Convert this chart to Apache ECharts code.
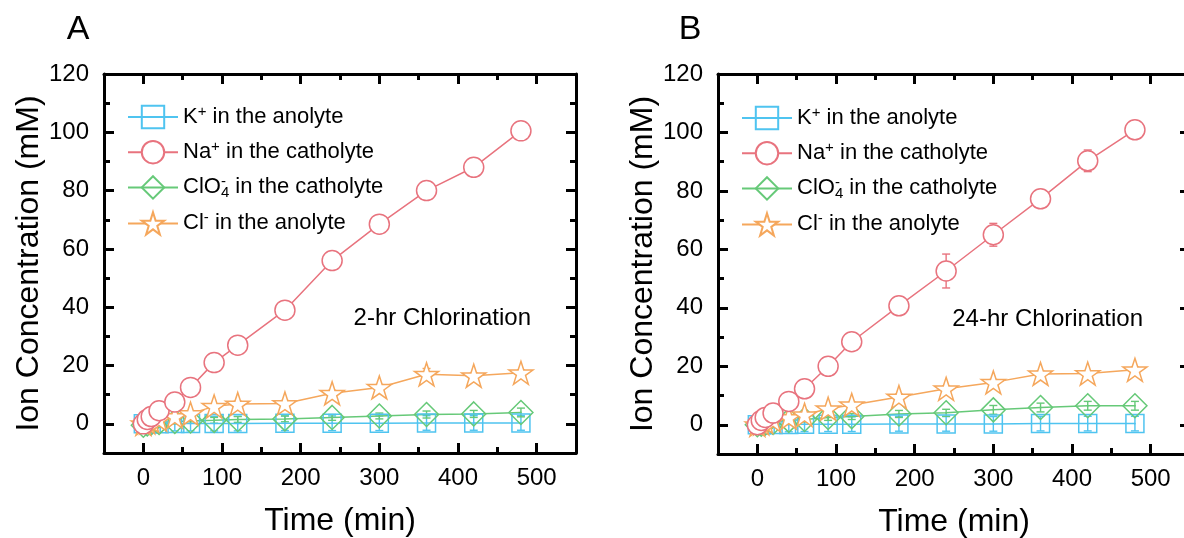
<!DOCTYPE html>
<html>
<head>
<meta charset="utf-8">
<script src="https://cdn.jsdelivr.net/npm/echarts@6/dist/echarts.min.js"></script>
<style>
  html, body { margin: 0; padding: 0; background: #fff; }
  #chart { width: 1184px; height: 538px; }
</style>
</head>
<body>
<div id="chart"></div>
<script>
// sampling times (min), shared by both panels
const times = [0, 5, 10, 20, 40, 60, 90, 120, 180, 240, 300, 360, 420, 480];

// panel A: 2-hr chlorination (mM)
const kA    = [0, 0, 0, 0, 0.1, 0.1, 0.1, 0.1, 0.2, 0.2, 0.2, 0.3, 0.3, 0.3];
const naA   = [0, 1.5, 2.5, 4.5, 7.5, 12.5, 21, 27, 39, 56, 68.5, 80, 88, 100.5];
const clo4A = [-0.5, 0, 0.3, 0.5, 0.8, 1, 1.2, 1.5, 1.7, 2.2, 2.7, 3.2, 3.4, 3.9];
const clA   = [0, 0.5, 1, 1.5, 2.5, 3.5, 6, 6.8, 7, 10.5, 12.5, 17, 16.5, 17.5];
const errKA    = [0.5, 0.5, 1, 1, 2.5, 2.5, 2.5, 2.5, 2.5, 2.5, 2.5, 2.5, 2.5, 2.5];
const errNaA   = [0.3, 0.5, 0.5, 1, 1, 1, 1, 1, 1, 1.2, 1.2, 1, 1, 1.2];
const errClo4A = [0.5, 0.5, 0.5, 0.5, 0.8, 0.8, 1, 1, 1, 1, 1, 1.2, 1.2, 1.5];
const errClA   = [0.3, 0.3, 0.5, 0.5, 0.5, 0.8, 0.8, 1, 1, 1, 1, 2, 1, 1];

// panel B: 24-hr chlorination (mM)
const kB    = [0, 0, 0.1, 0.1, 0.1, 0.2, 0.2, 0.2, 0.3, 0.3, 0.3, 0.4, 0.4, 0.4];
const naB   = [0, 1.5, 2.5, 4, 8, 12.3, 20, 28.4, 40.7, 52.6, 65, 77.3, 90.3, 100.9];
const clo4B = [0, 0.2, 0.5, 0.8, 1.5, 1.8, 2.5, 2.8, 3.7, 4.1, 5.1, 5.9, 6.5, 6.5];
const clB   = [0, 0.5, 1, 1.5, 2.5, 3.4, 5.5, 6.8, 9.5, 12.3, 14.5, 17.4, 17.5, 18.8];
const errKB    = [0.5, 0.5, 1, 1, 2.5, 2.5, 2.5, 2.5, 2.5, 2.5, 2.5, 2.5, 2.5, 2.5];
const errNaB   = [0.3, 0.5, 0.5, 1, 1, 1, 1, 1.5, 1.5, 5.8, 3.9, 1.8, 3.7, 1.5];
const errClo4B = [0.5, 0.5, 0.5, 0.5, 0.8, 0.8, 1, 1, 1.2, 1.2, 1.5, 1.5, 1.5, 1.5];
const errClB   = [0.3, 0.3, 0.5, 0.5, 0.5, 0.8, 0.8, 1, 1, 1, 1, 1, 1, 1];

// axis ticks
const xMajor = [0, 100, 200, 300, 400, 500];
const xMinor = [50, 150, 250, 350, 450];
const yMajor = [0, 20, 40, 60, 80, 100, 120];
const yMinor = [10, 30, 50, 70, 90, 110];

const FONT = '"Liberation Sans", Arial, sans-serif';
const COLORS = { K: '#4FC4F0', Na: '#E8737E', ClO4: '#66C978', Cl: '#F5A75C' };
const STAR = 'path://M50,2 L61,36 L97,36 L68,57 L79,92 L50,71 L21,92 L32,57 L3,36 L39,36 Z';

const legendLabels = {
  K: '{t|K}{sup|+}{t| in the anolyte}',
  Na: '{t|Na}{sup|+}{t| in the catholyte}',
  ClO4: '{t|ClO}{supz|-}{sub|4}{t| in the catholyte}',
  Cl: '{t|Cl}{sup|-}{t| in the anolyte}'
};

const grids = [
  { left: 104, top: 74, width: 472, height: 379, outerBoundsMode: 'none', containLabel: false },
  { left: 718, top: 74, width: 472, height: 380, outerBoundsMode: 'none', containLabel: false }
];

const tickLine = { color: '#000', width: 3 };

const xAxes = [];
const yAxes = [];
grids.forEach((g, gi) => {
  const xBase = { gridIndex: gi, type: 'value', min: -50, max: 550, splitLine: { show: false } };
  xAxes.push(Object.assign({}, xBase, {
    position: 'bottom',
    axisLine: { onZero: false, lineStyle: tickLine },
    axisTick: { inside: true, length: 10, lineStyle: tickLine, customValues: xMajor },
    axisLabel: { customValues: xMajor, fontSize: 24, color: '#000', fontFamily: FONT, margin: 13 },
    name: 'Time (min)', nameLocation: 'middle', nameGap: 52,
    nameTextStyle: { fontSize: 32, color: '#000', fontFamily: FONT }
  }));
  xAxes.push(Object.assign({}, xBase, {
    position: 'bottom',
    axisLine: { show: false, onZero: false },
    axisTick: { inside: true, length: 6, lineStyle: tickLine, customValues: xMinor },
    axisLabel: { show: false }
  }));
  xAxes.push(Object.assign({}, xBase, {
    position: 'top',
    axisLine: { onZero: false, lineStyle: tickLine },
    axisTick: { inside: true, length: 10, lineStyle: tickLine, customValues: xMajor },
    axisLabel: { show: false }
  }));
  xAxes.push(Object.assign({}, xBase, {
    position: 'top',
    axisLine: { show: false, onZero: false },
    axisTick: { inside: true, length: 6, lineStyle: tickLine, customValues: xMinor },
    axisLabel: { show: false }
  }));

  const yBase = { gridIndex: gi, type: 'value', min: -10, max: 120, splitLine: { show: false } };
  yAxes.push(Object.assign({}, yBase, {
    position: 'left',
    axisLine: { onZero: false, lineStyle: tickLine },
    axisTick: { inside: true, length: 10, lineStyle: tickLine, customValues: yMajor },
    axisLabel: { customValues: yMajor, fontSize: 24, color: '#000', fontFamily: FONT, margin: 15 },
    name: 'Ion Concentration (mM)', nameLocation: 'middle', nameGap: 57,
    nameTextStyle: { fontSize: 32, color: '#000', fontFamily: FONT }
  }));
  yAxes.push(Object.assign({}, yBase, {
    position: 'left',
    axisLine: { show: false, onZero: false },
    axisTick: { inside: true, length: 6, lineStyle: tickLine, customValues: yMinor },
    axisLabel: { show: false }
  }));
  yAxes.push(Object.assign({}, yBase, {
    position: 'right',
    axisLine: { onZero: false, lineStyle: tickLine },
    axisTick: { inside: true, length: 10, lineStyle: tickLine, customValues: yMajor },
    axisLabel: { show: false }
  }));
  yAxes.push(Object.assign({}, yBase, {
    position: 'right',
    axisLine: { show: false, onZero: false },
    axisTick: { inside: true, length: 6, lineStyle: tickLine, customValues: yMinor },
    axisLabel: { show: false }
  }));
});

function renderErr(params, api) {
  const t = api.value(0), v = api.value(1), e = api.value(2);
  const hi = api.coord([t, v + e]);
  const lo = api.coord([t, v - e]);
  const c = api.coord([t, v]);
  const color = api.visual('color');
  const style = { stroke: color, lineWidth: 1.4, fill: null };
  return {
    type: 'group',
    children: [
      { type: 'line', shape: { x1: c[0], y1: hi[1], x2: c[0], y2: lo[1] }, style },
      { type: 'line', shape: { x1: c[0] - 4, y1: hi[1], x2: c[0] + 4, y2: hi[1] }, style },
      { type: 'line', shape: { x1: c[0] - 4, y1: lo[1], x2: c[0] + 4, y2: lo[1] }, style },
      { type: 'circle', shape: { cx: c[0], cy: c[1], r: 0.9 }, style: { fill: color } }
    ]
  };
}

const seriesDefs = [
  { name: 'K', symbol: 'rect', size: 18, fill: 'rgba(255,255,255,0)' },
  { name: 'ClO4', symbol: 'diamond', size: 24, fill: 'rgba(255,255,255,0)' },
  { name: 'Cl', symbol: STAR, size: 24, fill: '#fff' },
  { name: 'Na', symbol: 'circle', size: 20, fill: '#fff' }
];
const panelData = [
  { K: [kA, errKA], Na: [naA, errNaA], ClO4: [clo4A, errClo4A], Cl: [clA, errClA] },
  { K: [kB, errKB], Na: [naB, errNaB], ClO4: [clo4B, errClo4B], Cl: [clB, errClB] }
];

const series = [];
panelData.forEach((pd, gi) => {
  seriesDefs.forEach(d => {
    const vals = pd[d.name][0];
    const errs = pd[d.name][1];
    series.push({
      name: d.name,
      type: 'line',
      xAxisIndex: gi * 4,
      yAxisIndex: gi * 4,
      symbol: d.symbol,
      symbolSize: d.size,
      symbolKeepAspect: true,
      showAllSymbol: true,
      lineStyle: { color: COLORS[d.name], width: 1.5 },
      itemStyle: { color: d.fill, borderColor: COLORS[d.name], borderWidth: 1.5 },
      emphasis: { disabled: true },
      data: times.map((t, i) => [t, vals[i]])
    });
    series.push({
      name: d.name + ' err',
      type: 'custom',
      xAxisIndex: gi * 4,
      yAxisIndex: gi * 4,
      z: 3,
      itemStyle: { color: COLORS[d.name] },
      renderItem: renderErr,
      data: times.map((t, i) => [t, vals[i], errs[i]])
    });
  });
});

const richText = {
  t: { fontSize: 22, fontFamily: FONT, color: '#000', lineHeight: 26 },
  sup: { fontSize: 15, fontFamily: FONT, color: '#000', verticalAlign: 'top', lineHeight: 14 },
  supz: { fontSize: 15, fontFamily: FONT, color: '#000', verticalAlign: 'top', lineHeight: 14, width: 0 },
  sub: { fontSize: 15, fontFamily: FONT, color: '#000', verticalAlign: 'bottom', lineHeight: 14 }
};

function makeLegend(left, top) {
  return {
    orient: 'vertical',
    left: left,
    top: top,
    padding: 0,
    itemWidth: 50,
    itemHeight: 28,
    itemGap: 10,
    selectedMode: false,
    data: ['K', 'Na', 'ClO4', 'Cl'],
    formatter: name => legendLabels[name],
    textStyle: { rich: richText }
  };
}

const chart = echarts.init(document.getElementById('chart'));
chart.setOption({
  animation: false,
  backgroundColor: '#fff',
  grid: grids,
  xAxis: xAxes,
  yAxis: yAxes,
  legend: [makeLegend(127, 104), makeLegend(741, 105)],
  graphic: [
    { type: 'text', x: 78, y: 30, style: { text: 'A', font: '34px "Liberation Sans", Arial', fill: '#000', align: 'center', verticalAlign: 'middle' } },
    { type: 'text', x: 690, y: 30, style: { text: 'B', font: '34px "Liberation Sans", Arial', fill: '#000', align: 'center', verticalAlign: 'middle' } },
    { type: 'text', x: 531, y: 318, style: { text: '2-hr Chlorination', font: '24px "Liberation Sans", Arial', fill: '#000', align: 'right', verticalAlign: 'middle' } },
    { type: 'text', x: 1143, y: 319, style: { text: '24-hr Chlorination', font: '24px "Liberation Sans", Arial', fill: '#000', align: 'right', verticalAlign: 'middle' } }
  ],
  series: series
});
</script>
</body>
</html>
